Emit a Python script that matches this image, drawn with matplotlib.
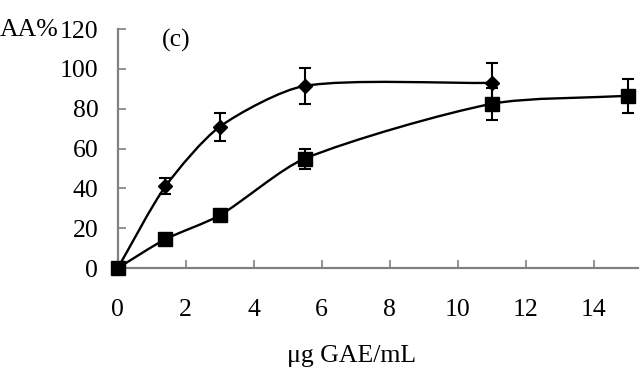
import numpy as np
import matplotlib.pyplot as plt
from matplotlib.path import Path
from matplotlib.patches import PathPatch

plt.rcParams['font.family'] = ['Liberation Serif', 'DejaVu Serif']

# Diamond series
x_dia = [0, 1.4, 3.0, 5.5, 11.0]
y_dia = [0, 41, 71, 91.5, 93]
e_dia = [0, 4, 7, 9, 10]

# Square series
x_sq = [0, 1.4, 3.0, 5.5, 11.0, 15.0]
y_sq = [0, 14.5, 26.5, 55, 82.5, 86.5]
e_sq = [0, 2, 2, 5, 8, 8.5]

x_ticks = [0, 2, 4, 6, 8, 10, 12, 14]
y_ticks = [0, 20, 40, 60, 80, 100, 120]

# pixel scale of one data unit, used only to shape the smoothed line
SX, SY = 33.9, 1.99


def smooth_path(xs, ys, t=0.25):
    # smoothed line: cubic Bezier with control arms scaled by segment length
    pts = np.column_stack([np.array(xs) * SX, np.array(ys) * SY])
    n = len(pts)
    verts = [pts[0]]
    codes = [Path.MOVETO]
    for i in range(n - 1):
        p0 = pts[max(i - 1, 0)]
        p1 = pts[i]
        p2 = pts[i + 1]
        p3 = pts[min(i + 2, n - 1)]
        d01 = np.linalg.norm(p1 - p0)
        d12 = np.linalg.norm(p2 - p1)
        d23 = np.linalg.norm(p3 - p2)
        c1 = p1 + t * (p2 - p0) * d12 / max(d01 + d12, 1e-9)
        c2 = p2 - t * (p3 - p1) * d12 / max(d12 + d23, 1e-9)
        verts += [c1, c2, p2]
        codes += [Path.CURVE4] * 3
    verts = np.array(verts) / [SX, SY]
    return Path(verts, codes)


fig = plt.figure(figsize=(6.4, 3.83), dpi=100)
ax = fig.add_axes([0.184, 0.3, 0.813, 0.624])

for xs, ys, es, mk, ms in [(x_dia, y_dia, e_dia, 'D', 7.5), (x_sq, y_sq, e_sq, 's', 10)]:
    ax.add_patch(PathPatch(smooth_path(xs, ys), fill=False, lw=1.7,
                           edgecolor='black', clip_on=False))
    ax.errorbar(xs, ys, yerr=es, fmt=mk, color='black', ms=ms, capsize=4.5,
                elinewidth=1.5, capthick=1.5, clip_on=False, zorder=3)

ax.set_xlim(0, 15.3)
ax.set_ylim(0, 120)
ax.set_xticks(x_ticks)
ax.set_yticks(y_ticks)
ax.tick_params(direction='in', length=6, width=1.2, color='#808080',
               labelsize=18.5)
ax.tick_params(axis='x', pad=22)
ax.tick_params(axis='y', pad=14)
for s in ['top', 'right']:
    ax.spines[s].set_visible(False)
for s in ['left', 'bottom']:
    ax.spines[s].set_color('#808080')
    ax.spines[s].set_linewidth(1.6)

fig.text(0.0, 1 - 30 / 383, 'AA%', fontsize=18.5, ha='left', va='center')
fig.text(176 / 640, 1 - 40 / 383, '(c)', fontsize=18.5, ha='center', va='center')
fig.text(352 / 640, 1 - 356 / 383, 'μg GAE/mL', fontsize=18.5, ha='center',
         va='center')

fig.savefig('out.png', dpi=100)
